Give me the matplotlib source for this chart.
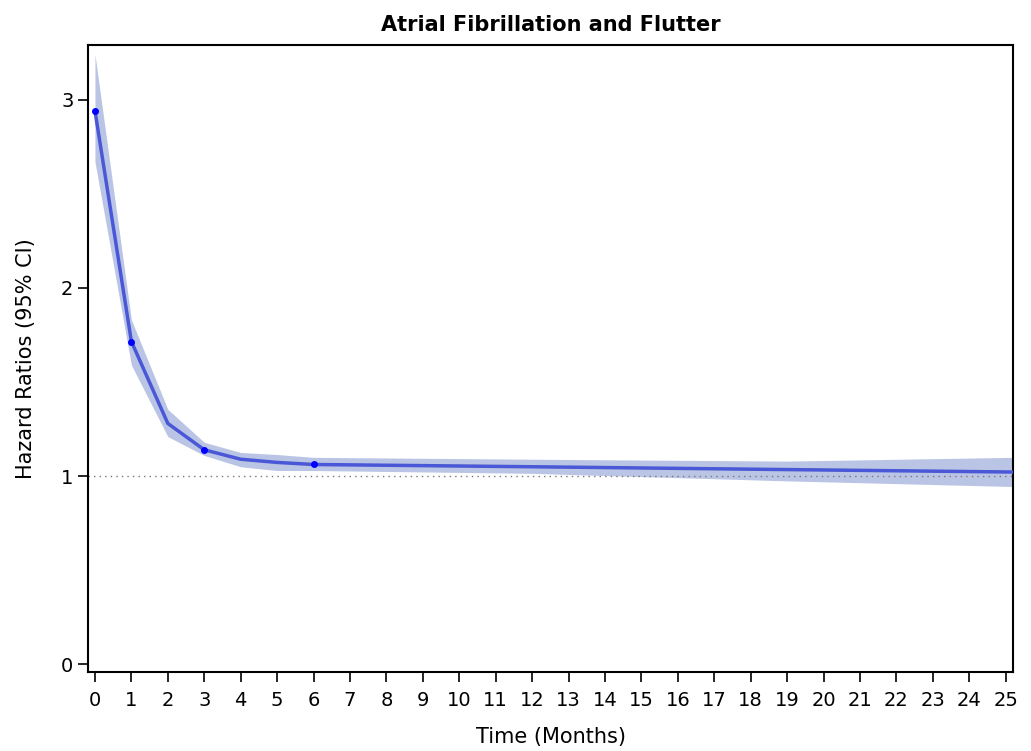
import matplotlib
matplotlib.use("Agg")
import matplotlib.pyplot as plt

months = [0, 1, 2, 3, 4, 5, 6, 12, 19, 25.2]
hr = [2.94, 1.715, 1.28, 1.14, 1.09, 1.073, 1.062, 1.05, 1.035, 1.022]
ci_low = [2.67, 1.59, 1.21, 1.11, 1.05, 1.03, 1.03, 1.015, 0.975, 0.945]
ci_high = [3.24, 1.83, 1.355, 1.18, 1.126, 1.115, 1.10, 1.09, 1.08, 1.10]
marker_months = [0, 1, 3, 6]
marker_hr = [2.94, 1.715, 1.14, 1.062]
xticks = list(range(0, 26))
yticks = [0, 1, 2, 3]

plt.rcParams['font.family'] = ['DejaVu Sans']
fig = plt.figure(figsize=(10.31, 7.51), dpi=100)
ax = fig.add_axes([0.0854, 0.1052, 0.8971, 0.8349])

ax.fill_between(months, ci_low, ci_high, color='#bac5e6', linewidth=0, zorder=1)
ax.axhline(1, color='#777777', linestyle=(0, (1, 3)), linewidth=1, zorder=2)
ax.plot(months, hr, color='#4a57d6', linewidth=2.5, zorder=3)
ax.plot(marker_months, marker_hr, 'o', color='#0000ff', markersize=4, zorder=4)

ax.set_xlim(-0.19, 25.2)
ax.set_ylim(-0.04, 3.29)
ax.set_xticks(xticks)
ax.set_yticks(yticks)
ax.tick_params(axis='both', labelsize=14, length=7, width=1.2, direction='out')
ax.tick_params(axis='x', pad=7)
for s in ax.spines.values():
    s.set_linewidth(1.5)
ax.set_title('Atrial Fibrillation and Flutter', fontsize=15, fontweight='bold', pad=10)
ax.set_xlabel('Time (Months)', fontsize=15, labelpad=12)
ax.set_ylabel('Hazard Ratios (95% CI)', fontsize=15, labelpad=18)

fig.savefig('out.png', dpi=100)
